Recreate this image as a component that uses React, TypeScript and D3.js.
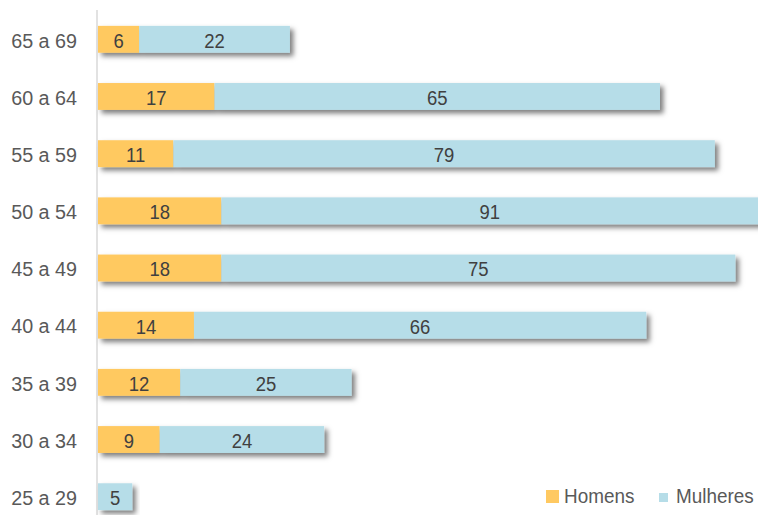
import * as d3 from 'd3';

const categories = ['65 a 69', '60 a 64', '55 a 59', '50 a 54', '45 a 49', '40 a 44', '35 a 39', '30 a 34', '25 a 29'];
const homens = [6, 17, 11, 18, 18, 14, 12, 9, 0];
const mulheres = [22, 65, 79, 91, 75, 66, 25, 24, 5];
const seriesNames = ['Homens', 'Mulheres'];
const colors = ['#FFC961', '#B6DDE8'];

const width = 758;
const height = 515;
const axisX = 98;

// text helper: slightly condensed like the original font
const Label = ({ x, y, size, sx, anchor, fill, children }: any) => (
  <text
    transform={`translate(${x},${y}) scale(${sx},1)`}
    textAnchor={anchor}
    dominantBaseline="central"
    fontSize={size}
    fill={fill}
  >
    {children}
  </text>
);

const App = () => {
  const x = d3.scaleLinear().domain([0, 96.3]).range([axisX, width]);
  const y = d3.scaleBand().domain(categories).range([11, 525]).paddingInner(0.53).paddingOuter(0.26);

  const rows = categories.map((c, i) => ({ cat: c, values: [homens[i], mulheres[i]] }));

  return (
    <svg width={width} height={height} style={{ position: 'absolute', left: 0, top: 0 }} fontFamily="'Liberation Sans', Arial, sans-serif">
      <defs>
        <filter id="shadow" x="-10%" y="-30%" width="130%" height="200%">
          <feDropShadow dx="3.5" dy="3.5" stdDeviation="2.5" floodColor="#000" floodOpacity="0.5" />
        </filter>
      </defs>
      <line x1={axisX - 1} x2={axisX - 1} y1={10} y2={height} stroke="#D9D9D9" strokeWidth={1.5} />
      {rows.map((r) => {
        const cy = (y(r.cat) as number) + y.bandwidth() / 2;
        const stacks = r.values.map((v, j) => {
          const x0 = d3.sum(r.values.slice(0, j));
          return { v, j, x0, x1: x0 + v };
        });
        return (
          <g key={r.cat}>
            <Label x={77} y={cy + 1} size={21} sx={0.94} anchor="end" fill="#595959">
              {r.cat}
            </Label>
            <g filter="url(#shadow)">
              {stacks.filter((s) => s.v).map((s) => (
                <rect key={s.j} x={x(s.x0)} y={y(r.cat)} width={x(s.x1) - x(s.x0)} height={y.bandwidth()} fill={colors[s.j]} />
              ))}
            </g>
            {stacks.filter((s) => s.v).map((s) => {
              const cx = Math.min((x(s.x0) + x(s.x1)) / 2, (x(s.x0) + width) / 2);
              return (
                <Label key={s.j} x={cx} y={cy + 1} size={21} sx={0.88} anchor="middle" fill="#404040">
                  {s.v}
                </Label>
              );
            })}
          </g>
        );
      })}
      <g>
        <rect x={546} y={490} width={13} height={13} fill={colors[0]} />
        <Label x={564} y={496} size={21} sx={0.9} anchor="start" fill="#595959">{seriesNames[0]}</Label>
        <rect x={659} y={493} width={9} height={9} fill={colors[1]} />
        <Label x={676} y={496} size={21} sx={0.9} anchor="start" fill="#595959">{seriesNames[1]}</Label>
      </g>
    </svg>
  );
};

export default App;
